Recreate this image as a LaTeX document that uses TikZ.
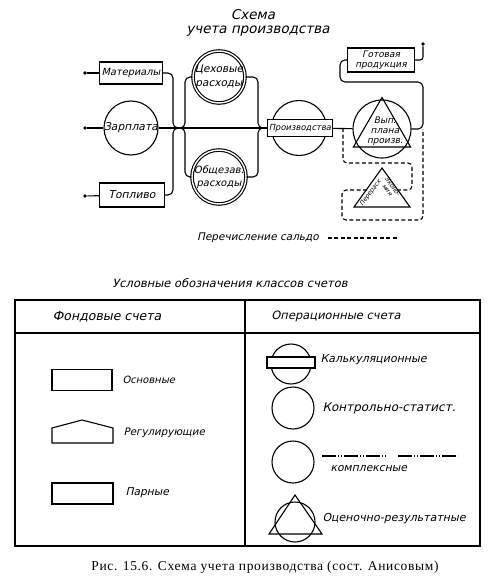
\documentclass[tikz,border=0pt]{standalone}
\usepackage{fontspec}
\setmainfont{Liberation Serif}
\newfontfamily\drawfont[FakeSlant=0.22]{DejaVu Sans}
\newfontfamily\capfont[LetterSpace=5]{Liberation Serif}
\usetikzlibrary{positioning,shapes.geometric,calc}
\newcommand{\lbl}{\drawfont\fontsize{10.8}{12}\selectfont}
\newcommand{\lbls}{\drawfont\fontsize{9}{9.8}\selectfont}
\newcommand{\lblt}{\drawfont\fontsize{6.2}{6.4}\selectfont}
\newcommand{\lblsz}[2]{\drawfont\fontsize{#1}{#2}\selectfont}
\newcommand{\ttl}{\drawfont\fontsize{13.5}{15}\selectfont}
\tikzset{
  acct/.style={draw, rectangle, inner sep=1pt, font=\lbl},
  ctl/.style={draw, circle, inner sep=0pt},
  dblc/.style={draw, circle, double, double distance=1.4pt, inner sep=0pt},
  pin/.style={circle, fill, inner sep=0pt, minimum size=3.8pt},
  saldo/.style={dash pattern=on 4pt off 2.5pt},
  legtxt/.style={font=\lbl, anchor=west, inner sep=0pt},
}

\begin{document}
\begin{tikzpicture}[x=1pt, y=-1pt, line width=1.1pt]
\useasboundingbox (0,0) rectangle (500,583);

% title
\node[font=\ttl] (ttl1) at (253,15) {Схема};
\node[font=\ttl] (ttl2) at (258,31) {учета производства};

% resources
\node[acct, minimum width=63pt, minimum height=22pt, font=\lblsz{9.8}{11}] (mat) at (131,73) {Материалы};
\node[ctl, minimum size=54pt, label={[font=\lbl]center:Зарплата}] (zp) at (131,128) {};
\node[acct, minimum width=65pt, minimum height=24pt] (topl) at (132,195) {Топливо};
\node[pin] (pin1) at (85,73) {};
\node[pin] (pin2) at (85,128) {};
\node[pin] (pin3) at (85,196) {};
\draw (pin1) -- (mat);
\draw (pin2) -- (zp);
\draw (pin3) -- (topl);

% overheads
\node[dblc, minimum size=52pt, label={[font=\lblsz{10.5}{13.5}, align=center]center:Цеховые\\расходы}] (ceh) at (219,77) {};
\node[dblc, minimum size=54pt, label={[font=\lblsz{10}{13}, align=center]center:Общезав.\\расходы}] (obsh) at (219,177) {};

% production
\node[ctl, minimum size=55pt] (prc) at (299,128) {};
\node[acct, fill=white, minimum width=64pt, minimum height=17pt, font=\lblsz{8.4}{9}] (pr) at (300,128) {Производства};

% plan fulfilment
\node[ctl, minimum size=58pt] (vc) at (382,129) {};
\node[draw, regular polygon, regular polygon sides=3, minimum size=66pt, inner sep=0pt] (vt) at (382,130.5) {};
\node[font=\lbls, align=center] (vtx) at (385,131) {Вып.\\плана\\произв.};

\node[acct, minimum width=67pt, minimum height=24pt, align=center, font=\lbls] (gp) at (381,60) {Готовая\\продукция};
\node[pin] (pin4) at (423,44) {};

% overrun / saving
\coordinate (et) at (382,168);
\coordinate (el) at (354,207);
\coordinate (er) at (410,207);
\draw (et) -- (el) -- (er) -- cycle;
\node[font=\lblt, rotate=54, inner sep=0pt] (ovr) at (370.5,193) {Перерасх};
\node[font=\lblt, rotate=-54, align=center, inner sep=0pt] (eco) at (390,188) {Эконо-\\мия};

% joints
\coordinate (jl) at (173,128);
\coordinate (jm) at (179,128);
\coordinate (jr) at (185,128);
\coordinate (jc) at (258,128);
\coordinate (jd) at (264,128);

\draw (zp) -- (pr);
\draw (pr) -- (vc);
\draw[rounded corners=5pt] (mat.east) -| (jl) -- (jm);
\draw[rounded corners=5pt] (topl.east) -| (jl) -- (jm);
\draw[rounded corners=5pt] (ceh.west) -| (jr) -- (jm);
\draw[rounded corners=5pt] (obsh.west) -| (jr) -- (jm);
\draw[rounded corners=5pt] (ceh.east) -| (jc) -- (jd);
\draw[rounded corners=5pt] (obsh.east) -| (jc) -- (jd);

\draw[rounded corners=5pt] (vc.east) -- (423,129) -- (423,82) -- (340,82) -- (340,60) -- (gp.west);
\draw[rounded corners=3pt] (gp.east) -| (pin4);

% saldo transfers
\coordinate (d1s) at (343,128);
\coordinate (d1e) at (398,190);
\coordinate (d2s) at (367,190);
\coordinate (d2e) at (423,129);
\draw[saldo, rounded corners=4pt] (d1s) -- (343,163) -- (412,163) -- (412,190) -- (d1e);
\draw[saldo, rounded corners=4pt] (d2s) -- (342,190) -- (342,220) -- (423,220) -- (d2e);

\node[font=\lblsz{10.5}{12}] (sl) at (258,238) {Перечисление сальдо};
\draw[saldo] ([xshift=5pt]sl.east) -- (398,238);

% legend
\node[font=\lblsz{11.5}{13}] (lgt) at (230,283) {Условные обозначения классов счетов};
\coordinate (tl) at (15,300);
\coordinate (br) at (480,546);
\draw (tl) rectangle (br);
\draw (15,333) -- (480,333);
\draw (245,300) -- (245,546);
\node[font=\lblsz{12.5}{14}] (h1) at (107,317) {Фондовые счета};
\node[font=\lblsz{11.5}{13}] (h2) at (336,316) {Операционные счета};

\node[acct, minimum width=60pt, minimum height=21pt] (k1) at (82,380) {};
\node[legtxt, font=\lblsz{10}{11}] (k1t) at (122,380) {Основные};
\draw (52,443) -- (52,428) -- (82,420) -- (113,428) -- (113,443) -- cycle;
\node[legtxt, font=\lblsz{10.3}{11}] (k2t) at (123,433) {Регулирующие};
\node[acct, minimum width=61pt, minimum height=21pt] (k3) at (82.5,493.5) {};
\node[legtxt, font=\lblsz{10.7}{11}] (k3t) at (125,493) {Парные};

\node[ctl, minimum size=40pt] (o1) at (291,364) {};
\node[acct, fill=white, minimum width=48pt, minimum height=11pt] (o1b) at (291,362.5) {};
\node[legtxt, font=\lblsz{11}{12}] (o1t) at (320,360) {Калькуляционные};
\node[ctl, minimum size=42pt] (o2) at (293,408) {};
\node[legtxt, font=\lblsz{12}{13}] (o2t) at (322,408) {Контрольно-статист.};
\node[ctl, minimum size=42pt] (o3) at (293,462) {};
\draw[dash pattern=on 14pt off 2pt on 1pt off 2pt on 1pt off 2pt] (322,456) -- (387,456);
\draw[dash pattern=on 14pt off 2pt on 1pt off 2pt on 1pt off 2pt] (398,456) -- (458,456);
\node[legtxt, font=\lblsz{10.8}{12}] (o3t) at (330,469) {комплексные};
\node[ctl, minimum size=40pt] (o4) at (295,522) {};
\draw (295,495) -- (269,534) -- (322,534) -- cycle;
\node[legtxt, font=\lblsz{11}{12}] (o4t) at (322,519) {Оценочно-результатные};

% caption
\node[font=\capfont\fontsize{13.5}{15}\selectfont] (cap) at (265,567) {Рис. 15.6. Схема учета производства (сост. Анисовым)};
\end{tikzpicture}
\end{document}
